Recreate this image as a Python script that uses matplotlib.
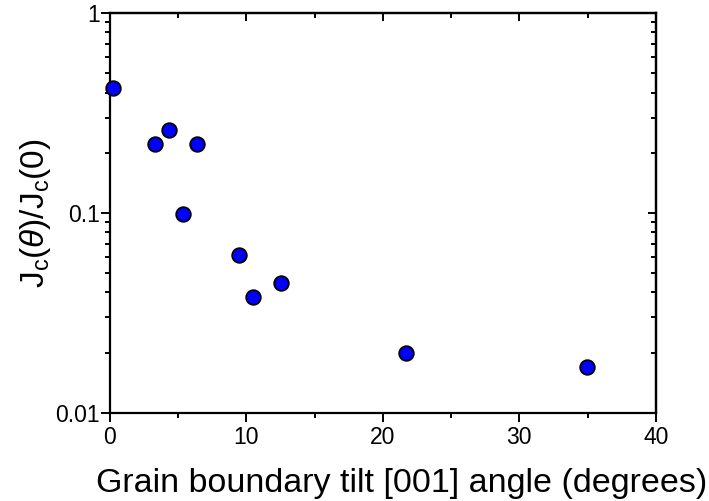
import matplotlib
matplotlib.use("Agg")
import matplotlib.pyplot as plt
from matplotlib.ticker import MultipleLocator, LogLocator, NullFormatter, FixedFormatter, FixedLocator

plt.rcParams['font.family'] = ['Liberation Sans', 'DejaVu Sans']
plt.rcParams['mathtext.fontset'] = 'custom'
plt.rcParams['mathtext.rm'] = 'Liberation Sans'
plt.rcParams['mathtext.it'] = 'Liberation Sans:italic'

# grain boundary tilt angle (degrees) and normalised critical current
angle = [0.26, 3.33, 4.36, 6.4, 5.37, 9.48, 10.45, 12.53, 21.7, 34.95]
jc_ratio = [0.42, 0.221, 0.261, 0.221, 0.099, 0.0617, 0.038, 0.0447, 0.0199, 0.017]

fig = plt.figure(figsize=(7.09, 5.01), dpi=100)
ax = fig.add_axes([0.155, 0.176, 0.77, 0.798])

ax.plot(angle, jc_ratio, 'o', color='#0000ff', markeredgecolor='black',
        markeredgewidth=1.3, markersize=10.5, clip_on=False, zorder=3)

ax.set_yscale('log')
ax.set_xlim(0, 40)
ax.set_ylim(0.01, 1)

ax.xaxis.set_major_locator(MultipleLocator(10))
ax.xaxis.set_minor_locator(MultipleLocator(5))
ax.yaxis.set_major_locator(FixedLocator([0.01, 0.1, 1]))
ax.yaxis.set_major_formatter(FixedFormatter(['0.01', '0.1', '1']))
ax.yaxis.set_minor_locator(LogLocator(base=10, subs=range(2, 10)))
ax.yaxis.set_minor_formatter(NullFormatter())

for s in ax.spines.values():
    s.set_linewidth(1.6)

ax.tick_params(which='both', labelsize=16.5, width=1.4)
ax.tick_params(which='major', length=6.5)
ax.tick_params(which='minor', length=3.8)
ax.tick_params(axis='x', which='both', direction='out', top=False, pad=3)
ax.tick_params(axis='y', which='both', direction='out', right=False, pad=0.5)

# inward ticks on top and right
ax_top = ax.secondary_xaxis('top')
ax_top.xaxis.set_major_locator(MultipleLocator(10))
ax_top.xaxis.set_minor_locator(MultipleLocator(5))
ax_top.tick_params(which='both', direction='in', labeltop=False, width=1.4)
ax_top.tick_params(which='major', length=6)
ax_top.tick_params(which='minor', length=3.5)
ax_top.spines['top'].set_linewidth(1.6)

ax_right = ax.secondary_yaxis('right')
ax_right.yaxis.set_major_locator(FixedLocator([0.01, 0.1, 1]))
ax_right.yaxis.set_minor_locator(LogLocator(base=10, subs=range(2, 10)))
ax_right.yaxis.set_minor_formatter(NullFormatter())
ax_right.tick_params(which='both', direction='in', labelright=False, width=1.4)
ax_right.tick_params(which='major', length=6)
ax_right.tick_params(which='minor', length=3.5)
ax_right.spines['right'].set_linewidth(1.6)

ax.set_xlabel('Grain boundary tilt [001] angle (degrees)', fontsize=24.5)
ax.xaxis.set_label_coords(0.535, -0.215)
ax.xaxis.label.set_va('bottom')
ax.set_ylabel(r'$\mathrm{J_c(}\theta\mathrm{)/J_c(0)}$', fontsize=24, labelpad=2)

fig.savefig('out.png', dpi=100)
